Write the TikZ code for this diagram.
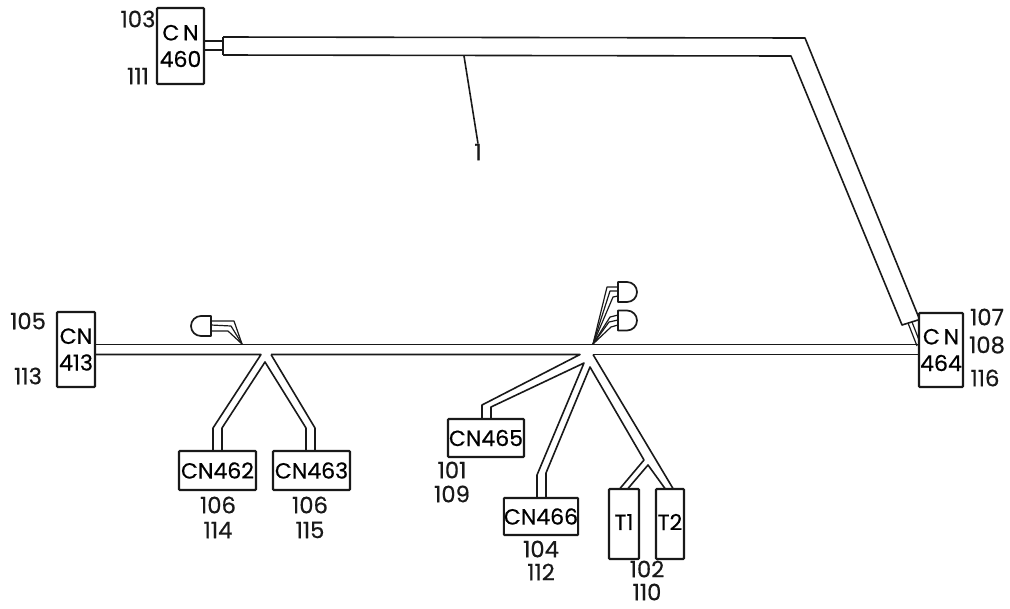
\documentclass[tikz,border=0pt]{standalone}
\usepackage{fontspec}
\setmainfont{Poppins}[FakeBold=0.5]
\tikzset{
  wire/.style={line width=1.2pt,line join=round,black!90},
  thin wire/.style={line width=0.9pt,line join=round,black!90},
  boxsize/.style 2 args={minimum width=#1*0.75pt,minimum height=#2*0.75pt},
  conbox/.style={draw=black!90,line width=1.6pt,rounded corners=0.6pt,inner sep=0pt,align=center,
     font=\fontsize{16.5}{20}\selectfont},
  ref/.style={inner sep=0pt,font=\fontsize{17}{19}\selectfont,black!90},
  plug/.style={line width=1.3pt,line join=round,black!90}
}
\begin{document}
\begin{tikzpicture}[x=0.75pt,y=-0.75pt]
\useasboundingbox (0,0) rectangle (1010,608);
% connector boxes
\node[conbox,boxsize={47}{76}] (cn460) at (180.5,46) {C\,N\\460};
\node[conbox,boxsize={38}{75}] (cn413) at (76,349.5) {CN\\413};
\node[conbox,boxsize={44}{74}] (cn464) at (941,350) {C\,N\\464};
\node[conbox,boxsize={77}{39}] (cn462) at (217.5,470.5) {CN462};
\node[conbox,boxsize={77}{39}] (cn463) at (311.5,470.5) {CN463};
\node[conbox,boxsize={76}{38}] (cn465) at (486,438) {CN465};
\node[conbox,boxsize={74}{37}] (cn466) at (541,516.5) {CN466};
\node[conbox,boxsize={30}{70}] (t1) at (624,524) {\raisebox{3pt}{T1}};
\node[conbox,boxsize={28}{70}] (t2) at (670,524) {\raisebox{3pt}{T2}};
% reference labels
\node[ref] (l103) at (138,19) {103};
\node[ref] (l111) at (138,76) {111};
\node[ref] (l1) at (478,152) {1};
\node[ref] (l105) at (28,321) {105};
\node[ref] (l113) at (28,376) {113};
\node[ref] (l107) at (987,317) {107};
\node[ref] (l108) at (987,345) {108};
\node[ref] (l116) at (985,378) {116};
\node[ref] (l106a) at (218,505) {106};
\node[ref] (l114) at (218,530) {114};
\node[ref] (l106b) at (310,505) {106};
\node[ref] (l115) at (310,530) {115};
\node[ref] (l101) at (452,470) {101};
\node[ref] (l109) at (452,494) {109};
\node[ref] (l104) at (541,549) {104};
\node[ref] (l112) at (541,572) {112};
\node[ref] (l102) at (647,569) {102};
\node[ref] (l110) at (647,592) {110};
% main cable from CN460 to CN464
\coordinate (s1) at (223,37); \coordinate (s2) at (223,55);
\draw[thin wire] (cn460.east |- 0,41) -- (223,41);
\draw[thin wire] (cn460.east |- 0,50) -- (223,50);
\draw[wire] (s1) -- (s2);
\draw[wire] (s1) -- (805,38) -- (919,318);
\draw[wire] (s2) -- (791,56) -- (902,325) -- (918,320);
\draw[thin wire] (908,323) -- (917,346);
\draw[thin wire] (912,322) -- (919,340);
% leader
\draw[wire] (464,56) -- (l1.north);
% horizontal bus
\draw[wire] (cn413.east |- 0,344.5) -- (cn464.west |- 0,344.5);
\draw[wire] (cn413.east |- 0,354.5) -- (261,354.5) -- (213,428) -- (cn462.north -| 213,0);
\draw[wire] (271,354.5) -- (580,354.5) -- (482,405) -- (cn465.north -| 482,0);
\draw[wire] (593,354.5) -- (cn464.west |- 0,354.5);
% left branches
\coordinate (lj) at (265,362);
\draw[wire] (cn462.north -| 222,0) -- (222,428) -- (lj) -- (306,428) -- (cn463.north -| 306,0);
\draw[wire] (271,354.5) -- (315,428) -- (cn463.north -| 315,0);
% centre branches
\coordinate (cj) at (590,367);
\draw[wire] (cn465.north -| 491,0) -- (491,407) -- (584,363) -- (537,475) -- (cn466.north -| 537,0);
\draw[wire] (cn466.north -| 546,0) -- (546,473) -- (cj) -- (644,460) -- (620,488.5);
\draw[wire] (593,354.5) -- (673,488.5);
\coordinate (tj) at (648,465);
\draw[wire] (628,488.5) -- (tj) -- (665,488.5);
% plug left
\draw[plug] (211,316) -- (201,316) arc[start angle=90,end angle=270,radius=7.5pt] -- (211,336) -- cycle;
\coordinate (pa) at (242,344);
\draw[thin wire] (211,321) -- (234,321) -- (pa);
\draw[thin wire] (211,325) -- (231,326) -- (pa);
\draw[thin wire] (211,331) -- (228,331) -- (pa);
% plugs centre
\draw[plug] (618,282) -- (627,282) arc[start angle=90,end angle=-90,radius=7.5pt] -- (618,302) -- cycle;
\draw[plug] (618,310.5) -- (627,310.5) arc[start angle=90,end angle=-90,radius=7.5pt] -- (618,330.5) -- cycle;
\coordinate (pb) at (593,344);
\draw[thin wire] (618,287) -- (607,287) -- (pb);
\draw[thin wire] (618,291) -- (610,291) -- (pb);
\draw[thin wire] (618,296) -- (613,297) -- (pb);
\draw[thin wire] (618,315) -- (610,317) -- (pb);
\draw[thin wire] (618,320) -- (609,322) -- (pb);
\draw[thin wire] (618,325) -- (611,327) -- (pb);
\end{tikzpicture}
\end{document}
